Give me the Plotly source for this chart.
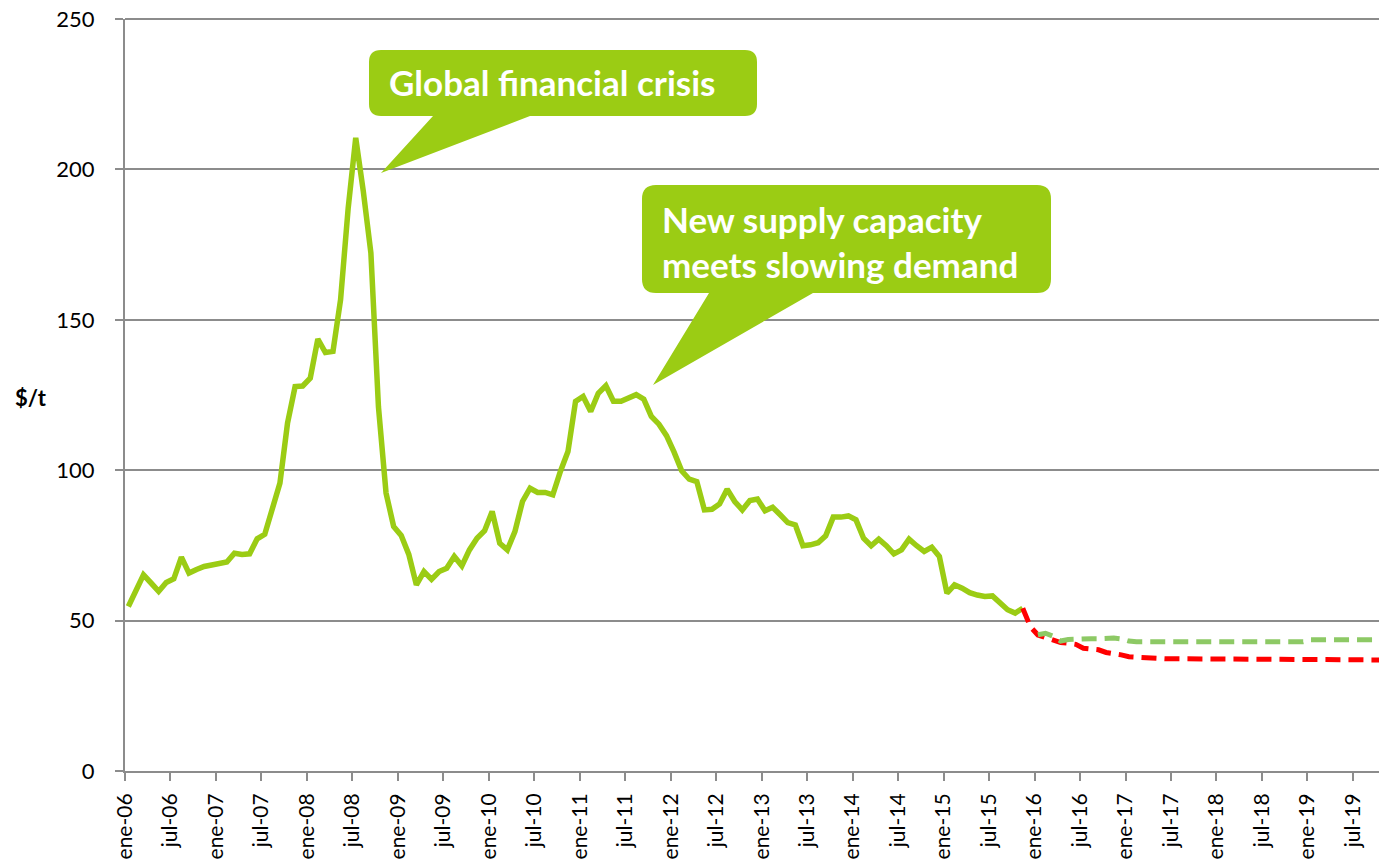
import plotly.graph_objects as go

MONTHS = ["ene", "feb", "mar", "abr", "may", "jun", "jul", "ago", "sep", "oct", "nov", "dic"]
months = [f"{m}-{y:02d}" for y in range(6, 20) for m in MONTHS]  # ene-06 ... dic-19

# Historical price, ene-06 .. nov-15 ($/t)
historical = [
    54.7, 60.5, 65.2, 62.5, 59.7, 62.7, 63.9, 71.1, 65.8, 67.0, 68.0, 68.5,
    69.0, 69.5, 72.4, 72.0, 72.2, 77.2, 78.7, 86.8, 95.7, 115.6, 127.8, 128.0,
    130.6, 143.6, 139.1, 139.5, 156.7, 187.0, 210.5, 192.7, 172.2, 121.0, 92.4, 81.3,
    78.3, 72.0, 61.9, 66.3, 63.7, 66.3, 67.4, 71.3, 68.2, 73.5, 77.4, 79.9,
    86.3, 75.7, 73.5, 79.6, 89.6, 94.0, 92.6, 92.6, 91.8, 99.6, 106.2, 122.9,
    124.5, 119.5, 125.6, 128.1, 122.9, 122.9, 124.0, 125.1, 123.6, 117.9, 115.3, 111.5,
    106.0, 99.8, 97.0, 96.2, 86.8, 87.0, 88.8, 93.7, 89.6, 86.8, 89.9, 90.4,
    86.5, 87.7, 85.2, 82.6, 81.8, 74.9, 75.2, 75.9, 78.2, 84.4, 84.4, 84.8,
    83.5, 77.4, 74.9, 77.1, 74.9, 72.2, 73.5, 77.1, 74.9, 73.0, 74.4, 71.3,
    59.1, 61.9, 60.8, 59.3, 58.5, 58.0, 58.2, 55.6, 53.6, 52.5, 54.1,
]

# Low forecast (red dashed), nov-15 .. dic-19
forecast_low = [
    54.1, 48.0, 45.2, 44.5, 43.6, 42.7, 42.5, 42.1, 40.8, 40.6, 40.3, 39.4,
    39.2, 38.6, 38.0, 37.8, 37.7, 37.4, 37.3, 37.3, 37.3, 37.3, 37.3, 37.3,
    37.3, 37.3, 37.3, 37.1, 37.1, 37.1, 37.1, 37.1, 37.1, 37.0, 37.0, 37.0,
    37.0, 37.0, 37.0, 36.9, 36.9, 36.9, 36.9, 36.9, 36.9, 36.9, 36.9, 36.9,
    36.9, 36.9,
]

# High forecast (light green dashed), ene-16 .. dic-19
forecast_high = [
    45.3, 45.8, 44.8, 43.2, 43.7, 43.9, 44.0, 44.0, 44.0, 44.2, 44.2, 43.9,
    43.2, 43.0, 43.0, 43.0, 43.0, 43.0, 43.0, 43.0, 43.0, 43.0, 43.0, 43.0,
    43.0, 43.0, 43.0, 43.0, 43.0, 43.0, 43.0, 43.0, 43.0, 43.0, 43.0, 43.0,
    43.6, 43.6, 43.6, 43.6, 43.6, 43.6, 43.6, 43.6, 43.6, 43.6, 43.6, 43.6,
]

y_ticks = [0, 50, 100, 150, 200, 250]
tick_labels = [m for m in months if m.startswith("ene") or m.startswith("jul")]

idx = list(range(len(months)))
hist_x = idx[:len(historical)]
low_x = idx[len(historical) - 1:len(historical) - 1 + len(forecast_low)]
high_x = idx[len(historical) + 1:len(historical) + 1 + len(forecast_high)]
tick_vals = [i - 0.44 for i, m in enumerate(months) if m in tick_labels]

LIME = "#9BCC14"
GRID = "#8c8c8c"
fig = go.Figure()
fig.add_trace(go.Scatter(x=hist_x, y=historical, mode="lines",
                         line=dict(color=LIME, width=5.5), hoverinfo="skip", showlegend=False))
fig.add_trace(go.Scatter(x=low_x, y=forecast_low, mode="lines",
                         line=dict(color="#FF0000", width=5, dash="15px,8px"),
                         hoverinfo="skip", showlegend=False))
fig.add_trace(go.Scatter(x=high_x, y=forecast_high, mode="lines",
                         line=dict(color="#8DC965", width=5, dash="15px,8px"),
                         hoverinfo="skip", showlegend=False))

# plot area in page pixels: x 125..1379, y 19..771 (body margin removed below)
L, T, W, H = 125, 19, 1254, 752
FIG_W, FIG_H = 1379, 865


def px(x):
    return (x - L) / W


def py(y):
    return (T + H - y) / H


def callout(x0, y0, x1, y1, r, b0, b1, tip):
    pts = [
        ("M", (x0 + r, y0)), ("L", (x1 - r, y0)), ("Q", (x1, y0), (x1, y0 + r)),
        ("L", (x1, y1 - r)), ("Q", (x1, y1), (x1 - r, y1)),
        ("L", (b1, y1)), ("L", tip), ("L", (b0, y1)),
        ("L", (x0 + r, y1)), ("Q", (x0, y1), (x0, y1 - r)),
        ("L", (x0, y0 + r)), ("Q", (x0, y0), (x0 + r, y0)),
    ]
    s = ""
    for p in pts:
        cmd = p[0]
        coords = " ".join(f"{px(a):.5f},{py(b):.5f}" for a, b in p[1:])
        s += f"{cmd} {coords} "
    return s + "Z"


shapes = [
    # top gridline (plotly drops the gridline lying on the plot edge)
    dict(type="line", xref="paper", yref="paper", x0=0, x1=1, y0=1, y1=1,
         line=dict(color=GRID, width=2), layer="below"),
    dict(type="path", xref="paper", yref="paper",
         path=callout(369, 50, 757, 116, 12, 433, 530, (381, 173)),
         fillcolor=LIME, line=dict(width=0), layer="above"),
    dict(type="path", xref="paper", yref="paper",
         path=callout(642, 185, 1051, 293, 14, 709, 813, (653, 385)),
         fillcolor=LIME, line=dict(width=0), layer="above"),
]

tfont = dict(family="Lato", size=35, color="white", weight="bold")
annotations = [
    dict(text="<b>Global financial crisis</b>", xref="paper", yref="paper",
         x=px(387), y=py(82), xanchor="left", yanchor="middle", showarrow=False, font=tfont),
    dict(text="<b>New supply capacity</b>", xref="paper", yref="paper",
         x=px(660), y=py(219), xanchor="left", yanchor="middle", showarrow=False, font=tfont),
    dict(text="<b>meets slowing demand</b>", xref="paper", yref="paper",
         x=px(660), y=py(264), xanchor="left", yanchor="middle", showarrow=False, font=tfont),
    dict(text="<b>$/t</b>", xref="paper", yref="paper",
         x=px(13), y=py(397), xanchor="left", yanchor="middle", showarrow=False,
         font=dict(family="Lato", size=22, color="black")),
]

fig.update_layout(
    width=FIG_W, height=FIG_H,
    margin=dict(l=L, r=FIG_W - L - W, t=T, b=FIG_H - T - H),
    paper_bgcolor="white", plot_bgcolor="white",
    shapes=shapes, annotations=annotations,
    font=dict(family="Lato", size=22, color="black"),
    xaxis=dict(range=[-0.44, 165.0], tickmode="array", tickvals=tick_vals, ticktext=tick_labels,
               tickangle=-90, showgrid=False, zeroline=False, showline=True, automargin=False,
               linecolor=GRID, linewidth=2, ticks="outside", ticklen=8, tickwidth=2,
               tickcolor=GRID, ticklabelstandoff=4, ticklabeloverflow="allow",
               tickfont=dict(family="Lato", size=21, color="black")),
    yaxis=dict(range=[0, 250], tickmode="array", tickvals=y_ticks, showgrid=True,
               gridcolor=GRID, gridwidth=2, zeroline=False, showline=True, automargin=False,
               linecolor=GRID, linewidth=2, ticks="outside", ticklen=8, tickwidth=2,
               tickcolor=GRID, ticklabelstandoff=16, ticklabeloverflow="allow",
               tickfont=dict(family="Lato", size=22, color="black")),
)

fig.write_html(
    "out.html",
    config={"displayModeBar": False, "staticPlot": True},
    post_script="document.body.style.margin='0';document.body.style.overflow='hidden';",
)
